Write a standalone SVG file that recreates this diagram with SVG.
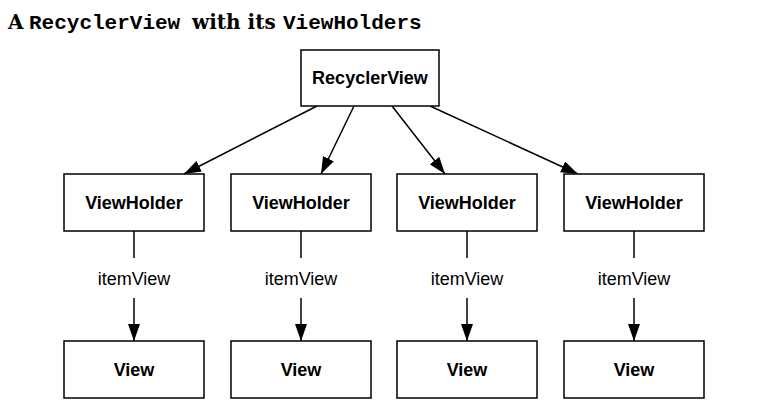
<svg xmlns="http://www.w3.org/2000/svg" width="758" height="414" viewBox="0 0 758 414">
<style>
.box{fill:#fff;stroke:#000;stroke-width:1.5}
.lbl{font-family:"Liberation Sans",Arial,sans-serif;font-weight:bold;font-size:18px;text-anchor:middle;fill:#000}
.edge{font-family:"Liberation Sans",Arial,sans-serif;font-size:18px;text-anchor:middle;fill:#000}
.ln{stroke:#000;stroke-width:1.5;fill:none}
.serif{font-family:"DejaVu Serif",serif;font-weight:bold;font-size:20px}
.mono{font-family:"Liberation Mono","Courier New",monospace;font-weight:bold;font-size:21px}
</style>
<defs>
<marker id="ah" markerUnits="userSpaceOnUse" markerWidth="18" markerHeight="12" viewBox="0 0 18 12" refX="17" refY="6" orient="auto">
<path d="M0,0 L17,6 L0,12 Z" fill="#000"/>
</marker>
</defs>
<rect width="758" height="414" fill="#fff"/>
<text y="29" fill="#000"><tspan x="8" class="serif">A</tspan><tspan x="29" class="mono">RecyclerView</tspan><tspan x="192" class="serif">with its</tspan><tspan x="283" class="mono">ViewHolders</tspan></text>
<g id="connectors">
<line class="ln" x1="317" y1="106" x2="184" y2="174" marker-end="url(#ah)"/>
<line class="ln" x1="354" y1="106" x2="321" y2="174" marker-end="url(#ah)"/>
<line class="ln" x1="392" y1="106" x2="445" y2="174" marker-end="url(#ah)"/>
<line class="ln" x1="430" y1="106" x2="578" y2="174" marker-end="url(#ah)"/>
<g id="e1"><line class="ln" x1="134" y1="231" x2="134" y2="258"/><text class="edge" x="134" y="285">itemView</text><line class="ln" x1="134" y1="298" x2="134" y2="341" marker-end="url(#ah)"/></g>
<g id="e2"><line class="ln" x1="301" y1="231" x2="301" y2="258"/><text class="edge" x="301" y="285">itemView</text><line class="ln" x1="301" y1="298" x2="301" y2="341" marker-end="url(#ah)"/></g>
<g id="e3"><line class="ln" x1="467" y1="231" x2="467" y2="258"/><text class="edge" x="467" y="285">itemView</text><line class="ln" x1="467" y1="298" x2="467" y2="341" marker-end="url(#ah)"/></g>
<g id="e4"><line class="ln" x1="634" y1="231" x2="634" y2="258"/><text class="edge" x="634" y="285">itemView</text><line class="ln" x1="634" y1="298" x2="634" y2="341" marker-end="url(#ah)"/></g>
</g>
<g id="recyclerview"><rect class="box" x="301" y="50" width="138" height="56"/><text class="lbl" x="370" y="84">RecyclerView</text></g>
<g id="vh1"><rect class="box" x="64" y="174" width="140" height="57"/><text class="lbl" x="134" y="209">ViewHolder</text></g>
<g id="vh2"><rect class="box" x="231" y="174" width="140" height="57"/><text class="lbl" x="301" y="209">ViewHolder</text></g>
<g id="vh3"><rect class="box" x="397" y="174" width="140" height="57"/><text class="lbl" x="467" y="209">ViewHolder</text></g>
<g id="vh4"><rect class="box" x="564" y="174" width="140" height="57"/><text class="lbl" x="634" y="209">ViewHolder</text></g>
<g id="v1"><rect class="box" x="64" y="341" width="140" height="57"/><text class="lbl" x="134" y="376">View</text></g>
<g id="v2"><rect class="box" x="231" y="341" width="140" height="57"/><text class="lbl" x="301" y="376">View</text></g>
<g id="v3"><rect class="box" x="397" y="341" width="140" height="57"/><text class="lbl" x="467" y="376">View</text></g>
<g id="v4"><rect class="box" x="564" y="341" width="140" height="57"/><text class="lbl" x="634" y="376">View</text></g>
</svg>
